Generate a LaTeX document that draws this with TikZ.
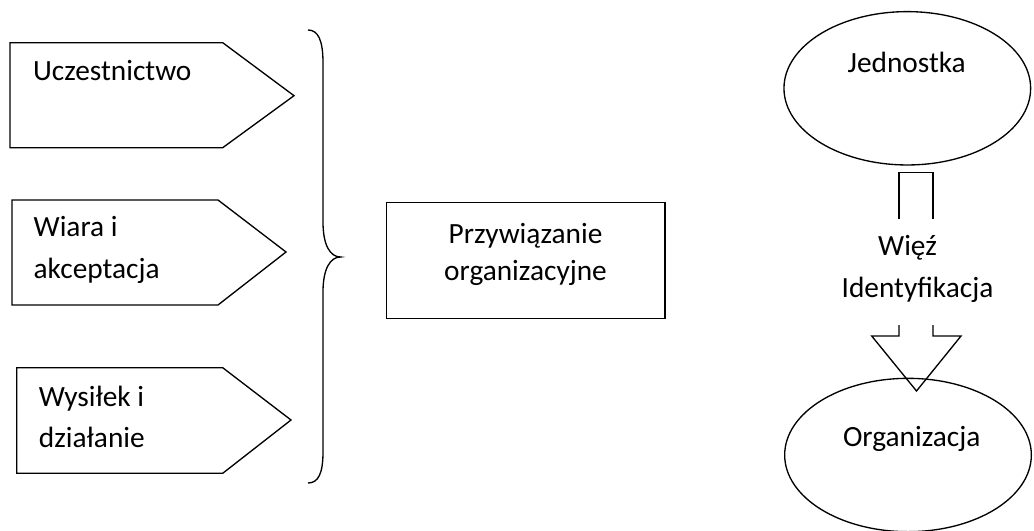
\documentclass[tikz,border=0pt]{standalone}
\usepackage{fontspec}
\setmainfont{Carlito}
\usetikzlibrary{shapes.geometric}
\begin{document}
\begin{tikzpicture}[x=0.75pt,y=-0.75pt,line width=1pt,
  lbl/.style={font=\fontsize{22}{31}\selectfont,inner sep=0pt,anchor=base west},
  clbl/.style={font=\fontsize{22}{31}\selectfont,inner sep=0pt,anchor=base},
  oval/.style={draw,ellipse,minimum width=185pt,minimum height=115pt,inner sep=0pt},
  outline/.style={draw,line join=miter}]
\useasboundingbox (0,0) rectangle (1034,531);
% pentagons
\draw[outline] (10,42.7) -- (222.7,42.7) -- (294,95.7) -- (222.7,147.7) -- (10,147.7) -- cycle;
\draw[outline] (12,200) -- (218,200) -- (286,252) -- (218,305) -- (12,305) -- cycle;
\draw[outline] (16.7,367.7) -- (222.7,367.7) -- (291,420) -- (222.7,473.3) -- (16.7,473.3) -- cycle;
\node[lbl] (t1) at (32.5,80.5) {Uczestnictwo};
\node[lbl] (t2a) at (33,236.7) {Wiara i};
\node[lbl] (t2b) at (33,278) {akceptacja};
\node[lbl] (t3a) at (38.3,406.7) {Wysiłek i};
\node[lbl] (t3b) at (38.3,447.7) {działanie};
% brace
\draw (308,30) .. controls (318,30) and (323,40) .. (323,63) -- (323,222)
  .. controls (323,245) and (330,257) .. (340.7,257)
  .. controls (330,257) and (323,269) .. (323,292) -- (323,452)
  .. controls (323,474) and (318,483) .. (308,483);
% central box
\node[draw,minimum width=208.7pt,minimum height=86.7pt,inner sep=0pt] (box) at (525.8,260.5) {};
\node[clbl] (b1) at (525.5,243.3) {Przywiązanie};
\node[clbl] (b2) at (525.5,280.7) {organizacyjne};
% ellipses
\node[oval] (jed) at (907.3,88.3) {};
\node[oval] (org) at (908,455) {};
\node[clbl] (jt) at (906.7,72.7) {Jednostka};
\node[clbl] (ot) at (911.7,446.7) {Organizacja};
% block arrow
\draw[outline] (899,219.3) -- (899,172.3) -- (933,172.3) -- (933,219.3);
\draw[outline] (899,325) -- (899,336) -- (871.7,336) -- (916.5,391) -- (961,336) -- (933,336) -- (933,325);
\node[clbl] (w) at (907.5,255.7) {Więź};
\node[clbl] (id) at (917.5,297.3) {Identyfikacja};
\end{tikzpicture}
\end{document}
